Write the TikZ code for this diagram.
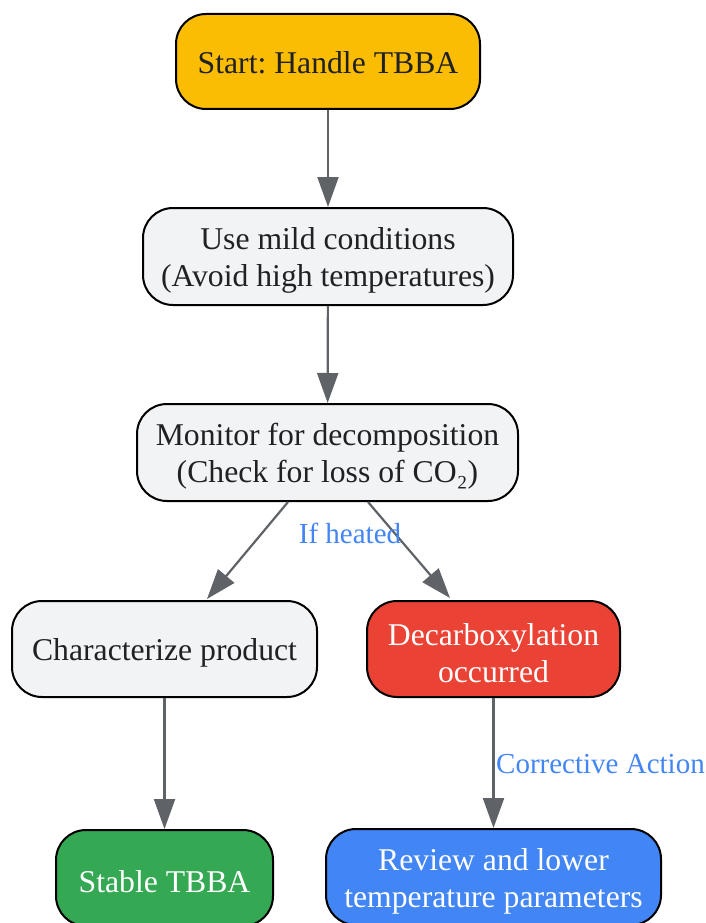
\documentclass[tikz,border=0pt]{standalone}
\usepackage{fontspec}
\setmainfont{Liberation Serif}
\frenchspacing
\usetikzlibrary{arrows.meta}
\definecolor{startc}{HTML}{FBBC04}
\definecolor{lightc}{HTML}{F1F3F4}
\definecolor{redc}{HTML}{EA4335}
\definecolor{greenc}{HTML}{34A853}
\definecolor{bluec}{HTML}{4285F4}
\definecolor{arrowc}{HTML}{5F6368}
\definecolor{textc}{HTML}{202124}
\tikzset{
  box/.style={draw=black, line width=2pt, rounded corners=30pt, inner sep=0pt},
  txt/.style={align=center, font=\fontsize{31.7}{37}\selectfont, text=textc, inner sep=0pt, yshift=-4pt},
  conn/.style={draw=arrowc, line width=2.2pt, -{Triangle[length=30pt,width=21pt]}},
  elabel/.style={text=bluec, font=\fontsize{29}{34}\selectfont, inner sep=0pt}
}
\begin{document}
\begin{tikzpicture}[x=1pt,y=-1pt]
\useasboundingbox (0,0) rectangle (706,923);
\clip (0,0) rectangle (706,923);
\node[box, fill=startc, minimum width=304pt, minimum height=95pt] (start) at (328,61.5) {};
\node[txt, yshift=3pt] (startt) at (start.center) {Start: Handle TBBA};
\node[box, fill=lightc, minimum width=370pt, minimum height=97pt] (mild) at (328,256.5) {};
\node[txt] (mildt) at (mild.center) {Use mild conditions\\(Avoid high temperatures)};
\node[box, fill=lightc, minimum width=381pt, minimum height=97pt] (mon) at (327.5,452.5) {};
\node[txt] (mont) at (mon.center) {Monitor for decomposition\\(Check for loss of CO₂)};
\node[box, fill=lightc, minimum width=305pt, minimum height=96pt] (char) at (164.5,649) {};
\node[txt] (chart) at (char.center) {Characterize product};
\node[box, fill=redc, minimum width=253pt, minimum height=96pt] (dec) at (493.5,649) {};
\node[txt, text=white] (dect) at (dec.center) {Decarboxylation\\occurred};
\node[box, fill=greenc, minimum width=217pt, minimum height=96pt] (stable) at (164.5,878) {};
\node[txt, text=white] (stablet) at (stable.center) {Stable TBBA};
\node[box, fill=bluec, minimum width=335pt, minimum height=96pt] (rev) at (493.5,877) {};
\node[txt, text=white] (revt) at (rev.center) {Review and lower\\temperature parameters};
\draw[conn] (start) -- (mild);
\draw[conn] (mild) -- (mon);
\draw[conn] (288,502) -- (207,599);
\draw[conn] (368,502) -- (450,598);
\draw[conn] (char) -- (stable);
\draw[conn] (dec) -- (rev);
\node[elabel] (lh) at (350,533) {If heated};
\node[elabel, anchor=west] (lc) at (496,764) {Corrective Action};
\end{tikzpicture}
\end{document}
